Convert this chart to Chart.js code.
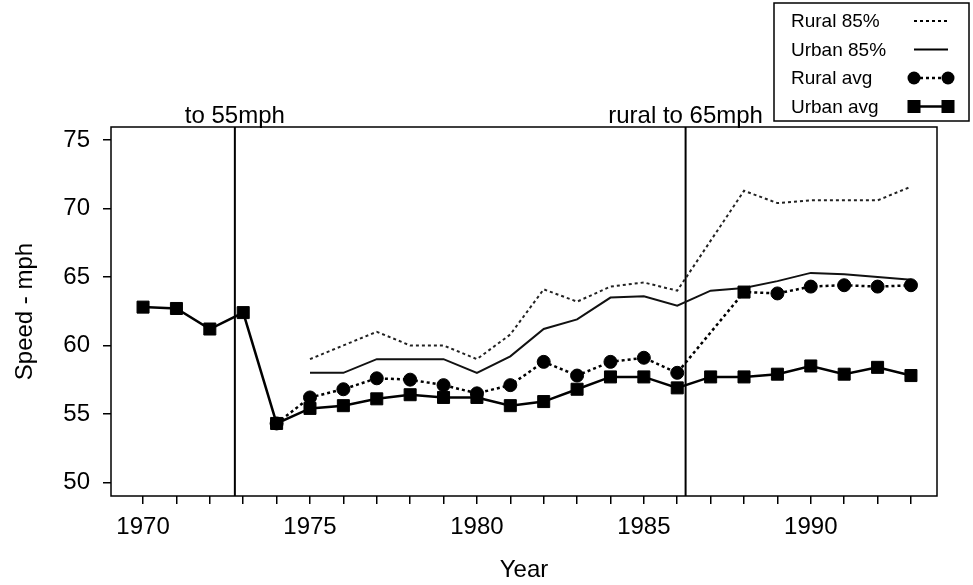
<!DOCTYPE html>
<html>
<head>
<meta charset="utf-8">
<script src="https://cdn.jsdelivr.net/npm/chart.js@4"></script>
<style>
  body { margin: 0; background: #fff; }
</style>
</head>
<body>
<canvas id="speedChart" width="973" height="585"></canvas>
<script>
const years = [1970, 1971, 1972, 1973, 1974, 1975, 1976, 1977, 1978, 1979, 1980, 1981,
               1982, 1983, 1984, 1985, 1986, 1987, 1988, 1989, 1990, 1991, 1992, 1993];
const urbanAvg = [62.8, 62.7, 61.2, 62.4, 54.3, 55.4, 55.6, 56.1, 56.4, 56.2, 56.2, 55.6,
                  55.9, 56.8, 57.7, 57.7, 56.9, 57.7, 57.7, 57.9, 58.5, 57.9, 58.4, 57.8];
const ruralAvg = [null, null, null, null, 54.3, 56.2, 56.8, 57.6, 57.5, 57.1, 56.5, 57.1,
                  58.8, 57.8, 58.8, 59.1, 58.0, null, 63.9, 63.8, 64.3, 64.4, 64.3, 64.4];
const rural85 = [null, null, null, null, null, 59.0, 60.0, 61.0, 60.0, 60.0, 59.0, 60.8,
                 64.1, 63.2, 64.3, 64.6, 64.0, null, 71.3, 70.4, 70.6, 70.6, 70.6, 71.6];
const urban85 = [null, null, null, null, null, 58.0, 58.0, 59.0, 59.0, 59.0, 58.0, 59.2,
                 61.2, 61.9, 63.5, 63.6, 62.9, 64.0, 64.2, 64.7, 65.3, 65.2, 65.0, 64.8];

// law changes marked on the plot
const events = [
    { year: 1972.75, text: 'to 55mph' },
    { year: 1986.25, text: 'rural to 65mph' }
];

const FONT = "'Liberation Sans', Arial, Helvetica, sans-serif";

const toPoints = (vals) => years.map((y, i) => ({ x: y, y: vals[i] }));

// the one odd marker: 1988 rural avg is drawn as a square in the original
const ruralStyles = years.map(y => y === 1988 ? 'rect' : 'circle');
const ruralRadius = years.map(y => y === 1988 ? 8.5 : 6.5);

const overlay = {
    id: 'overlay',
    beforeDatasetsDraw(chart) {
        const { ctx, chartArea: a, scales } = chart;
        ctx.save();
        ctx.strokeStyle = '#000';
        // frame
        ctx.lineWidth = 1.5;
        ctx.strokeRect(a.left, a.top, a.right - a.left, a.bottom - a.top);
        // event lines and captions
        ctx.lineWidth = 2;
        ctx.fillStyle = '#000';
        ctx.font = '24px ' + FONT;
        ctx.textAlign = 'center';
        ctx.textBaseline = 'alphabetic';
        events.forEach(ev => {
            const px = scales.x.getPixelForValue(ev.year);
            ctx.beginPath();
            ctx.moveTo(px, a.top);
            ctx.lineTo(px, a.bottom);
            ctx.stroke();
            ctx.fillText(ev.text, px, a.top - 4);
        });
        ctx.restore();
    },
    afterDraw(chart) {
        const ctx = chart.ctx;
        const items = chart.data.datasets.slice().reverse();
        ctx.save();
        ctx.fillStyle = '#fff';
        ctx.fillRect(774, 3, 195, 118);
        ctx.strokeStyle = '#000';
        ctx.lineWidth = 1.5;
        ctx.strokeRect(774, 3, 195, 118);
        ctx.font = '19px ' + FONT;
        ctx.fillStyle = '#000';
        ctx.textAlign = 'left';
        ctx.textBaseline = 'middle';
        items.forEach((ds, i) => {
            const y = 21 + i * 28.5;
            ctx.fillText(ds.label, 791, y + 1);
            ctx.strokeStyle = '#000';
            ctx.lineWidth = ds.borderWidth;
            ctx.setLineDash(ds.borderDash || []);
            ctx.beginPath();
            ctx.moveTo(914, y);
            ctx.lineTo(948, y);
            ctx.stroke();
            ctx.setLineDash([]);
            if (ds.legendMarker === 'circle') {
                [914, 948].forEach(mx => {
                    ctx.beginPath();
                    ctx.arc(mx, y, 6.5, 0, Math.PI * 2);
                    ctx.fill();
                });
            } else if (ds.legendMarker === 'rect') {
                [914, 948].forEach(mx => ctx.fillRect(mx - 6.5, y - 6.5, 13, 13));
            }
        });
        ctx.restore();
    }
};

const tickFont = { family: FONT, size: 24 };

new Chart(document.getElementById('speedChart'), {
    type: 'line',
    data: {
        datasets: [
            {
                label: 'Urban avg',
                data: toPoints(urbanAvg),
                borderColor: '#000',
                backgroundColor: '#000',
                borderWidth: 2.5,
                pointStyle: 'rect',
                pointRadius: 8.5,
                pointBorderWidth: 1,
                legendMarker: 'rect'
            },
            {
                label: 'Rural avg',
                data: toPoints(ruralAvg),
                borderColor: '#000',
                backgroundColor: '#000',
                borderWidth: 2.5,
                borderDash: [3, 3],
                pointStyle: ruralStyles,
                pointRadius: ruralRadius,
                pointBorderWidth: 1,
                spanGaps: true,
                legendMarker: 'circle'
            },
            {
                label: 'Urban 85%',
                data: toPoints(urban85),
                borderColor: '#111',
                borderWidth: 2,
                pointRadius: 0,
                spanGaps: true
            },
            {
                label: 'Rural 85%',
                data: toPoints(rural85),
                borderColor: '#222',
                borderWidth: 2,
                borderDash: [3, 3],
                pointRadius: 0,
                spanGaps: true
            }
        ]
    },
    options: {
        responsive: false,
        animation: false,
        layout: { padding: { top: 127, right: 36, left: 0, bottom: 0 } },
        elements: { line: { tension: 0 } },
        plugins: {
            legend: { display: false },
            tooltip: { enabled: false }
        },
        scales: {
            x: {
                type: 'linear',
                min: 1969.04,
                max: 1993.78,
                border: { display: false },
                grid: { drawOnChartArea: false, drawTicks: true, tickLength: 8, color: '#000', lineWidth: 1.5 },
                ticks: {
                    stepSize: 1,
                    includeBounds: false,
                    autoSkip: false,
                    maxRotation: 0,
                    padding: 9,
                    color: '#000',
                    font: tickFont,
                    callback: v => v % 5 === 0 ? String(v) : ''
                },
                title: { display: true, text: 'Year', color: '#000', font: tickFont, padding: { top: 0, bottom: 0 } },
                afterFit: s => { s.height = 89; }
            },
            y: {
                min: 49.0,
                max: 75.96,
                border: { display: false },
                grid: { drawOnChartArea: false, drawTicks: true, tickLength: 8, color: '#000', lineWidth: 1.5 },
                ticks: {
                    stepSize: 5,
                    includeBounds: false,
                    padding: 13,
                    color: '#000',
                    font: tickFont
                },
                title: { display: true, text: 'Speed - mph', color: '#000', font: tickFont, padding: { top: 11, bottom: 0 } },
                afterFit: s => { s.width = 111; }
            }
        }
    },
    plugins: [overlay]
});
</script>
</body>
</html>
